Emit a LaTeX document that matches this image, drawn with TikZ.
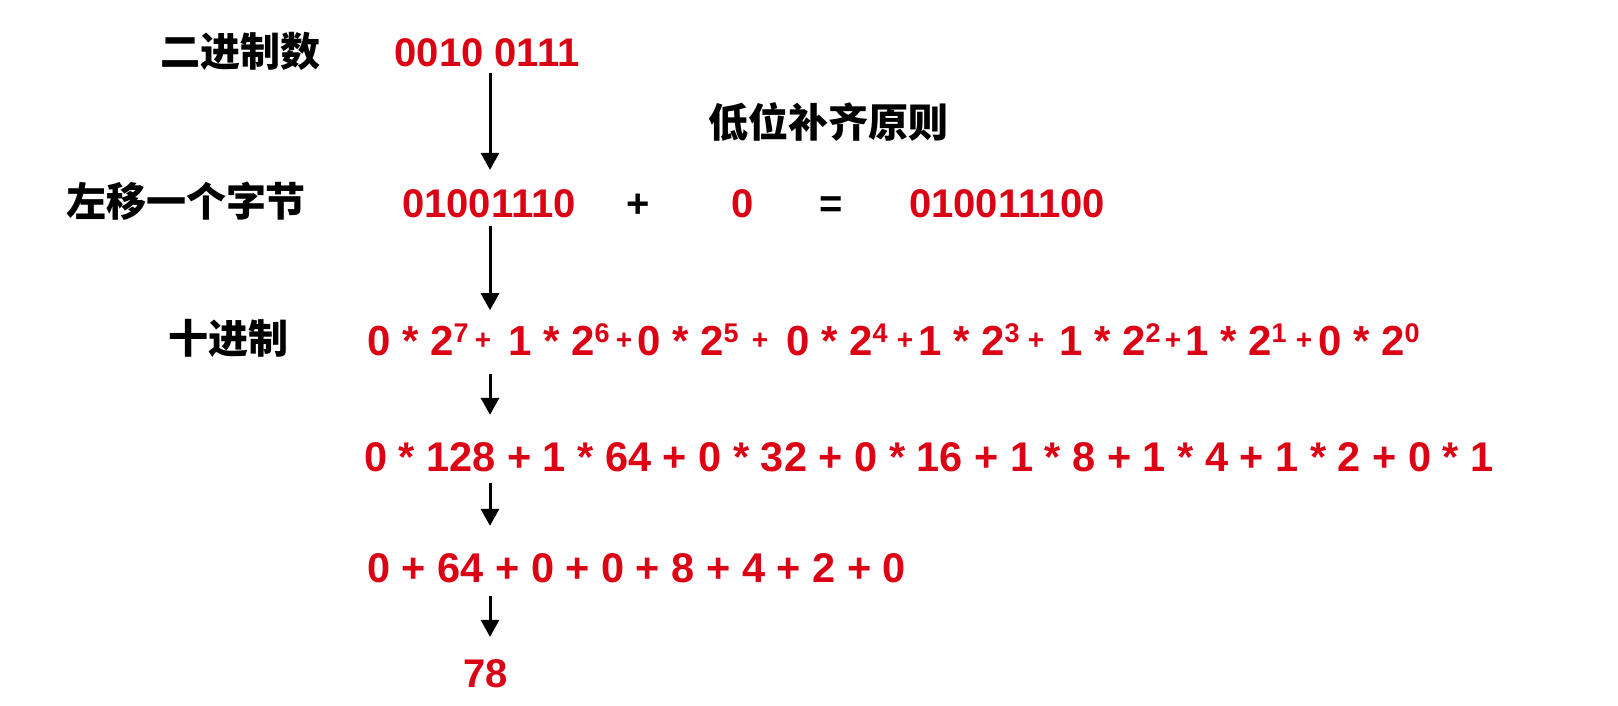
\documentclass[tikz,border=0pt]{standalone}
\usepackage{fontspec}
\setmainfont{Liberation Sans}
\newfontfamily\cjk{Noto Sans CJK SC}
\usetikzlibrary{arrows.meta}
\definecolor{numred}{RGB}{220,0,20}
\tikzset{
 num/.style={text=numred, font=\fontsize{40}{40}\selectfont\bfseries, inner sep=0pt, anchor=base},
 wide/.style={text=numred, font=\fontsize{41.5}{42}\selectfont\bfseries, inner sep=0pt, anchor=base west},
 term/.style={text=numred, font=\fontsize{42}{42}\selectfont\bfseries, inner sep=0pt, anchor=base west},
 sp/.style={text=numred, font=\fontsize{28}{28}\selectfont\bfseries, inner sep=0pt},
 op/.style={text=black, font=\fontsize{40}{40}\selectfont\bfseries, inner sep=0pt, anchor=base},
 lab/.style={text=black, font=\fontsize{40}{40}\cjk\bfseries, inner sep=0pt},
 arr/.style={-{Triangle[width=18pt,length=17pt]}, line width=3pt}
}
\newcommand\pw[1]{\raisebox{13pt}{\fontsize{27}{27}\selectfont #1}}
\begin{document}
\begin{tikzpicture}[x=1pt,y=-1pt]
\useasboundingbox (0,0) rectangle (1618,706);
\fill[white] (0,0) rectangle (1618,706);
% labels
\node[lab] (l1) at (240,51) {二进制数};
\node[lab] (l2) at (186,201) {左移一个字节};
\node[lab] (l3) at (828,122) {低位补齐原则};
\node[lab] (l4) at (228,338) {十进制};
% row 1
\node[num] (r1) at (487,67) {0010 0111};
% row 2
\node[num] (r2) at (489,218) {01001110};
\node[op] (plus) at (638,218) {+};
\node[num] (zero) at (743,218) {0};
\node[op] (eq) at (831,218) {=};
\node[num] (res) at (1007,218) {010011100};
% row 3
\node[term] (t1) at (367,355) {0 * 2\pw{7}};
\node[sp] (p1) at (483,341) {+};
\node[term] (t2) at (508,355) {1 * 2\pw{6}};
\node[sp] (p2) at (624,341) {+};
\node[term] (t3) at (637,355) {0 * 2\pw{5}};
\node[sp] (p3) at (760,341) {+};
\node[term] (t4) at (786,355) {0 * 2\pw{4}};
\node[sp] (p4) at (905,341) {+};
\node[term] (t5) at (918,355) {1 * 2\pw{3}};
\node[sp] (p5) at (1036,341) {+};
\node[term] (t6) at (1059,355) {1 * 2\pw{2}};
\node[sp] (p6) at (1173,341) {+};
\node[term] (t7) at (1185,355) {1 * 2\pw{1}};
\node[sp] (p7) at (1304,341) {+};
\node[term] (t8) at (1318,355) {0 * 2\pw{0}};
% rows 4-6
\node[wide] (r4) at (364,471) {0 * 128 + 1 * 64 + 0 * 32 + 0 * 16 + 1 * 8 + 1 * 4 + 1 * 2 + 0 * 1};
\node[wide] (r5) at (367,582) {0 + 64 + 0 + 0 + 8 + 4 + 2 + 0};
\node[num] (r6) at (486,687) {78};
% arrows
\coordinate (ax) at (490,0);
\draw[arr, shorten <=5pt, shorten >=20pt] (r1.south -| ax) -- (r2.north -| ax);
\draw[arr, shorten <=7pt, shorten >=13pt] (r2.south -| ax) -- (t1.north -| ax);
\draw[arr, shorten <=18pt, shorten >=27pt] (t1.south -| ax) -- (r4.north -| ax);
\draw[arr, shorten <=11pt, shorten >=27pt] (r4.south -| ax) -- (r5.north -| ax);
\draw[arr, shorten <=13pt, shorten >=22pt] (r5.south -| ax) -- (r6.north -| ax);
\end{tikzpicture}
\end{document}
